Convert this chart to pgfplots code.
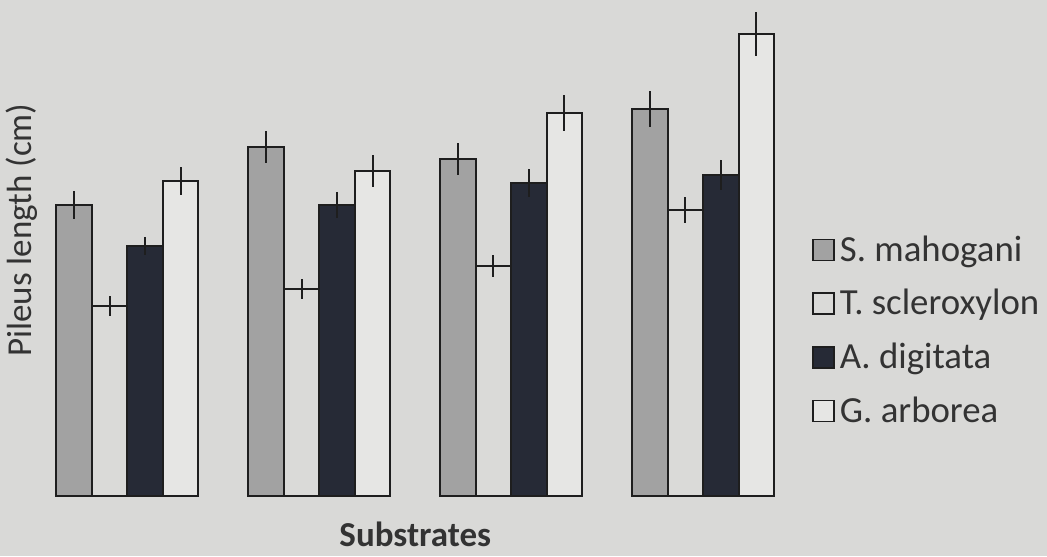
\documentclass[border=0pt]{standalone}
\usepackage{fontspec}
\setmainfont{Carlito}
\usepackage{pgfplots}
\pgfplotsset{compat=1.18}
\definecolor{bg}{HTML}{D9D9D7}
\definecolor{mah}{HTML}{A2A2A2}
\definecolor{scl}{HTML}{DADAD8}
\definecolor{dig}{HTML}{262A36}
\definecolor{arb}{HTML}{E6E6E4}
\definecolor{ink}{HTML}{1E1E1E}
\definecolor{txt}{HTML}{333333}
\begin{document}
\begin{tikzpicture}
\fill[bg] (0,0) rectangle (523.5pt,278pt);
\useasboundingbox (0,0) rectangle (523.5pt,278pt);
\begin{axis}[
  at={(15.75pt,30pt)}, anchor=south west,
  scale only axis, width=383.75pt, height=248pt,
  xmin=-0.5, xmax=3.5, ymin=0, ymax=4.96,
  axis line style={draw=none},
  xtick=\empty, ytick=\empty, major tick length=0pt,
  ybar=0pt, bar width=17.75pt,
  clip=false,
  font=\fontsize{17.5}{21}\selectfont\color{txt},
  ylabel={Pileus length (cm)},
  ylabel style={at={(rel axis cs:-0.0124,0.536)}, anchor=center, rotate=0, color=txt},
  xlabel={\textbf{Substrates}},
  xlabel style={at={(rel axis cs:0.5,-0.078)}, anchor=center, color=txt},
  every axis plot/.append style={draw=ink, line width=1pt,
    error bars/y dir=both, error bars/y explicit,
    error bars/error mark=none,
    error bars/error bar style={line width=1pt, draw=ink}},
  legend image code/.code={\draw[#1, line width=0.8pt] (0pt,-5.25pt) rectangle (10.5pt,5.25pt);},
  legend style={at={(rel axis cs:1.0169,0.532)}, anchor=north west,
    draw=none, fill=none, font=\fontsize{18.4}{22}\selectfont\color{txt},
    row sep=9.6pt, inner sep=0pt, nodes={inner xsep=2.5pt, inner ysep=1.5pt}},
  legend cell align=left,
]
\addplot[fill=mah] coordinates {(0,2.91) +- (0,0.14) (1,3.49) +- (0,0.16) (2,3.37) +- (0,0.16) (3,3.87) +- (0,0.18)};
\addplot[fill=scl] coordinates {(0,1.90) +- (0,0.10) (1,2.07) +- (0,0.10) (2,2.30) +- (0,0.11) (3,2.86) +- (0,0.13)};
\addplot[fill=dig] coordinates {(0,2.50) +- (0,0.09) (1,2.91) +- (0,0.13) (2,3.13) +- (0,0.14) (3,3.21) +- (0,0.15)};
\addplot[fill=arb] coordinates {(0,3.15) +- (0,0.14) (1,3.25) +- (0,0.16) (2,3.83) +- (0,0.18) (3,4.62) +- (0,0.22)};
\legend{S. mahogani, T. scleroxylon, A. digitata, G. arborea}
\end{axis}
\end{tikzpicture}
\end{document}
